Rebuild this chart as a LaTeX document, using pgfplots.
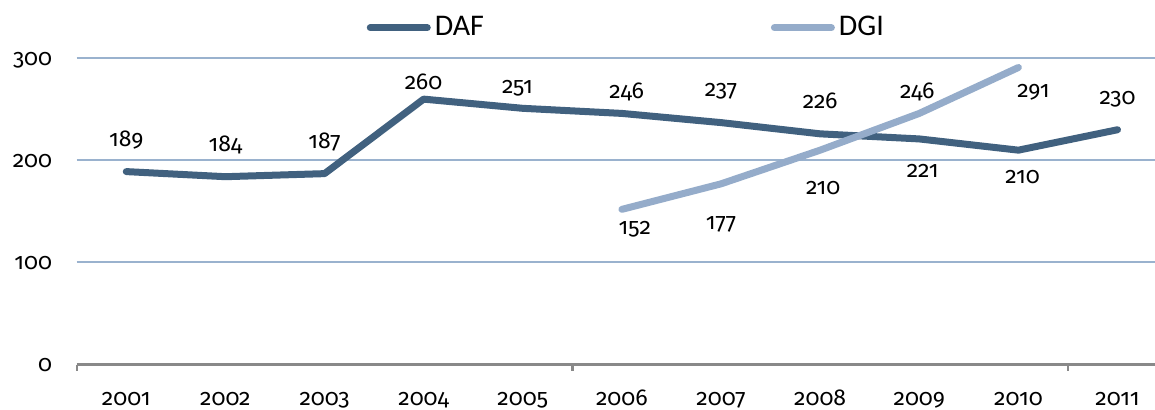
\documentclass[border=0pt]{standalone}
\usepackage{fontspec}
\setmainfont{Fira Sans}[Numbers=OldStyle]
\newfontfamily\legfont{Carlito}
\usepackage{pgfplots}
\usepackage{pgfplotstable}
\pgfplotsset{compat=1.18}

\definecolor{dafcol}{HTML}{41617F}
\definecolor{dgicol}{HTML}{95ACCA}
\definecolor{gridcol}{HTML}{9AB2CE}
\definecolor{axisgray}{HTML}{898989}

% x = category (1 = 2001), dx/dy = label offset in px
\pgfplotstableread{
x  y   lab dx   dy
1  189 189 0    25
2  184 184 0    25
3  187 187 0    25.5
4  260 260 0    10
5  251 251 -5.3 15.3
6  246 246 4.8  15.4
7  237 237 0    26
8  226 226 0    25.5
9  221 221 3.4  -38.4
10 210 210 4.2  -33
11 230 230 0    25.7
}\daf

\pgfplotstableread{
x  y   lab dx  dy
6  152 152 13  -25.6
7  177 177 0   -46
8  210 210 3   -44
9  246 246 -2  15.4
10 291 291 15  -30.5
}\dgi

\begin{document}
\begin{tikzpicture}
\path[use as bounding box] (0,0) rectangle (577.5bp,205bp);
\begin{axis}[
    at={(38.35bp,22.75bp)}, anchor=south west,
    scale only axis, width=539.15bp, height=153.1bp,
    xmin=0.5, xmax=11.378, ymin=0, ymax=300,
    clip=false,
    axis x line*=bottom, axis y line*=left,
    x axis line style={draw=axisgray, line width=1.2bp, -},
    y axis line style={draw=none},
    xtick={1,2,3,4,5,6,7,8,9,10,11},
    xticklabels={2001,2002,2003,2004,2005,2006,2007,2008,2009,2010,2011},
    ytick={0,100,200,300},
    major tick length=0pt,
    extra x ticks={0.5,5.5,10.5},
    extra x tick labels={},
    extra x tick style={major tick length=3bp, tick align=outside,
        tick style={draw=axisgray, line width=1.2bp}},
    ymajorgrids,
    grid style={draw=gridcol, line width=1bp},
    /pgf/number format/assume math mode=true,
    tick label style={font=\fontsize{11.5bp}{12bp}\selectfont, inner sep=0pt},
    xticklabel style={anchor=base, yshift=-20.25bp},
    yticklabel style={anchor=base east, xshift=-12.1bp, yshift=-3.5bp},
    legend columns=2,
    legend style={at={(0.2690,1.0999)}, anchor=west, draw=none, fill=none,
        inner sep=0pt, outer sep=0pt,
        font=\fontsize{15bp}{15bp}\legfont,
        nodes={inner sep=0pt},
        /tikz/every odd column/.style={column sep=2bp},
        /tikz/every even column/.style={column sep=143.5bp}},
    legend image code/.code={\draw[#1] (0bp,0bp) -- (28.5bp,0bp);},
    every node near coord/.append style={text=black,
        font=\fontsize{11.5bp}{12bp}\selectfont, inner sep=0pt,
        anchor=base, xshift=\ldx*0.5bp, yshift=\ldy*0.5bp},
]
\addplot[dafcol, line width=3.5bp, line cap=round, line join=round,
    nodes near coords, point meta=explicit symbolic,
    visualization depends on={\thisrow{dx}\as\ldx},
    visualization depends on={\thisrow{dy}\as\ldy}]
    table[x=x, y=y, meta=lab] {\daf};
\addlegendentry{DAF}
\addplot[dgicol, line width=3.5bp, line cap=round, line join=round,
    nodes near coords, point meta=explicit symbolic,
    visualization depends on={\thisrow{dx}\as\ldx},
    visualization depends on={\thisrow{dy}\as\ldy}]
    table[x=x, y=y, meta=lab] {\dgi};
\addlegendentry{DGI}
\end{axis}
\end{tikzpicture}
\end{document}
